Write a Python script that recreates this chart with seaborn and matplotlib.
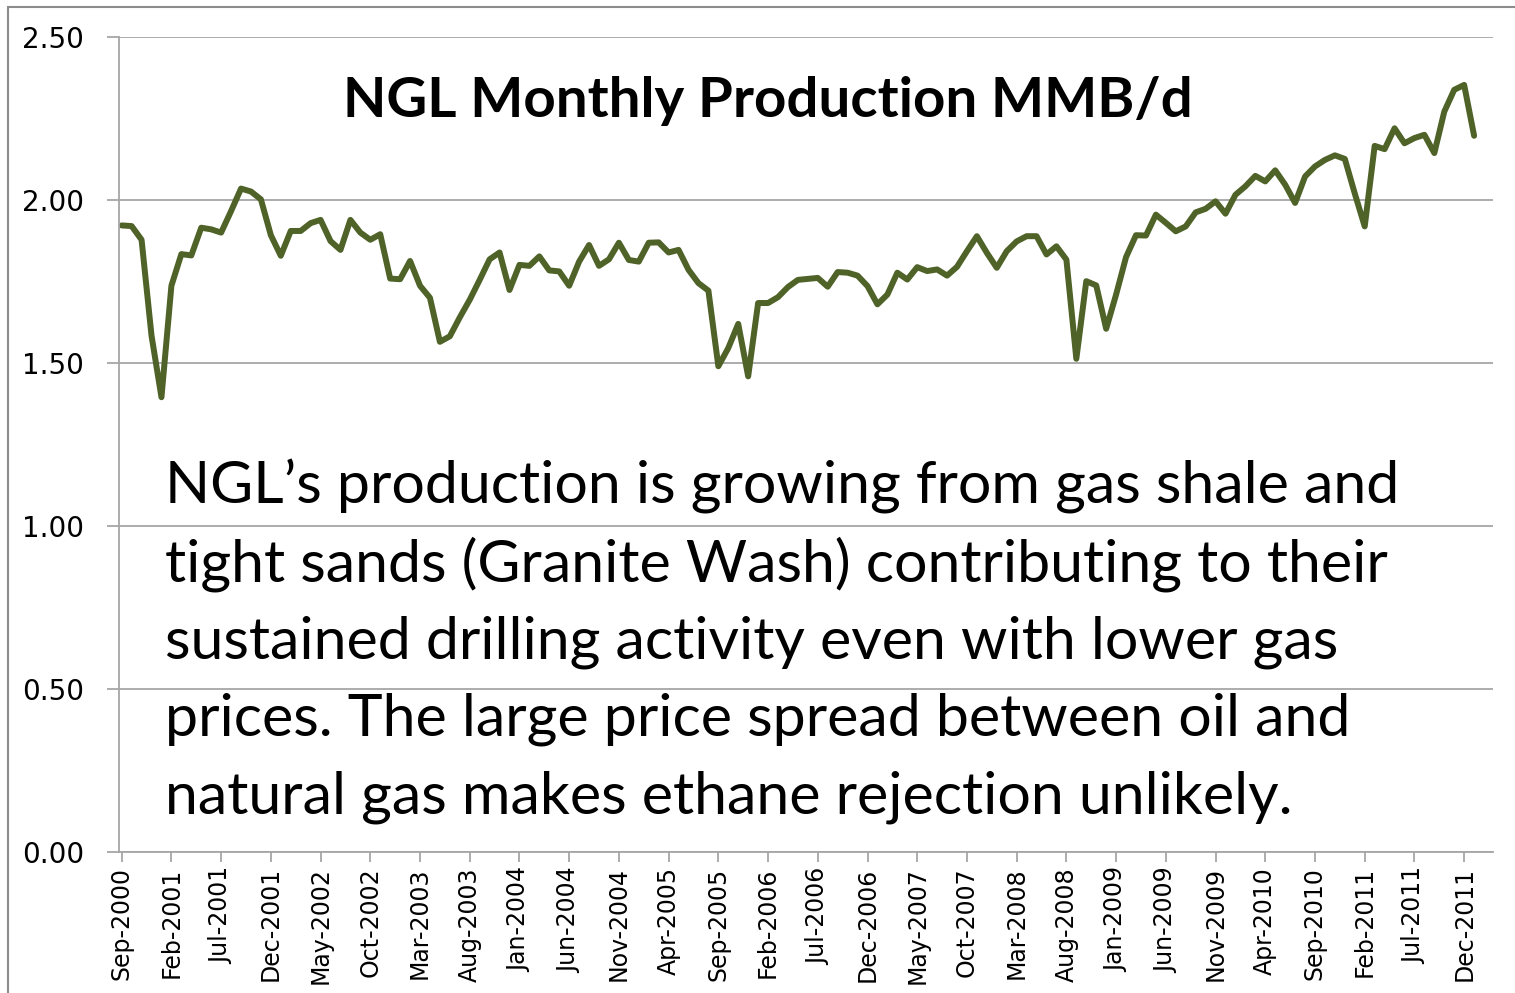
import numpy as np
import pandas as pd
import matplotlib.pyplot as plt
import seaborn as sns
from matplotlib.patches import Rectangle

# NGL monthly production, MMB/d, Sep-2000 .. Jan-2012
months = pd.date_range('2000-09-01', periods=137, freq='MS').strftime('%b-%Y')
ngl_production = [
    1.922, 1.920, 1.878, 1.584, 1.395, 1.737, 1.834, 1.830, 1.915, 1.910,
    1.900, 1.966, 2.035, 2.026, 2.002, 1.892, 1.829, 1.905, 1.905, 1.929,
    1.939, 1.874, 1.847, 1.939, 1.900, 1.878, 1.895, 1.759, 1.757, 1.813,
    1.737, 1.700, 1.565, 1.582, 1.640, 1.694, 1.755, 1.818, 1.839, 1.724,
    1.801, 1.798, 1.827, 1.784, 1.781, 1.737, 1.811, 1.862, 1.798, 1.818,
    1.869, 1.816, 1.811, 1.869, 1.870, 1.839, 1.847, 1.786, 1.745, 1.722,
    1.490, 1.546, 1.620, 1.459, 1.684, 1.684, 1.702, 1.733, 1.755, 1.758,
    1.761, 1.734, 1.779, 1.777, 1.768, 1.736, 1.680, 1.710, 1.777, 1.756,
    1.794, 1.782, 1.787, 1.768, 1.795, 1.843, 1.889, 1.838, 1.792, 1.843,
    1.873, 1.889, 1.889, 1.833, 1.858, 1.817, 1.513, 1.751, 1.738, 1.605,
    1.710, 1.825, 1.892, 1.891, 1.955, 1.930, 1.904, 1.919, 1.962, 1.973,
    1.996, 1.958, 2.016, 2.042, 2.074, 2.057, 2.091, 2.047, 1.991, 2.072,
    2.103, 2.123, 2.137, 2.126, 2.020, 1.919, 2.166, 2.156, 2.220, 2.174,
    2.190, 2.200, 2.144, 2.271, 2.338, 2.353, 2.197,
]

tick_labels = [
    'Sep-2000', 'Feb-2001', 'Jul-2001', 'Dec-2001', 'May-2002', 'Oct-2002',
    'Mar-2003', 'Aug-2003', 'Jan-2004', 'Jun-2004', 'Nov-2004', 'Apr-2005',
    'Sep-2005', 'Feb-2006', 'Jul-2006', 'Dec-2006', 'May-2007', 'Oct-2007',
    'Mar-2008', 'Aug-2008', 'Jan-2009', 'Jun-2009', 'Nov-2009', 'Apr-2010',
    'Sep-2010', 'Feb-2011', 'Jul-2011', 'Dec-2011',
]
y_ticks = [0.0, 0.5, 1.0, 1.5, 2.0, 2.5]

title_text = 'NGL Monthly Production MMB/d'
note_lines = [
    'NGL\u2019s production is growing from gas shale and',
    'tight sands (Granite Wash) contributing to their',
    'sustained drilling activity even with lower gas',
    'prices. The large price spread between oil and',
    'natural gas makes ethane rejection unlikely.',
]

df = pd.DataFrame({'month': months, 'production': ngl_production})
df['pos'] = np.arange(len(df))

sns.set_style('white')
plt.rcParams['font.family'] = ['DejaVu Sans']
plt.rcParams['text.color'] = 'black'
plt.rcParams['xtick.labelcolor'] = 'black'
plt.rcParams['ytick.labelcolor'] = 'black'

W, H = 1515, 993
grey = '#a6a6a6'
fig = plt.figure(figsize=(W / 100, H / 100), dpi=100)
ax = fig.add_axes([119 / W, 1 - 852 / H, (1493 - 119) / W, (852 - 37) / H])

sns.lineplot(data=df, x='pos', y='production', ax=ax,
             color='#4f6228', linewidth=4.3)

ax.set_xlim(-0.27, 137.9)
ax.set_ylim(0, 2.5)
ax.set_yticks(y_ticks)
ax.set_yticklabels([f'{v:.2f}' for v in y_ticks])
tick_pos = df.loc[df['month'].isin(tick_labels), 'pos'].tolist()
ax.set_xticks(tick_pos)
ax.set_xticklabels(df.loc[df['month'].isin(tick_labels), 'month'], rotation=90)
ax.set_xlabel('')
ax.set_ylabel('')

ax.yaxis.grid(True, color=grey, lw=1.3)
ax.set_axisbelow(True)
for s in ['top', 'right']:
    ax.spines[s].set_visible(False)
for s in ['left', 'bottom']:
    ax.spines[s].set_color(grey)
    ax.spines[s].set_linewidth(1.3)
ax.tick_params(axis='y', length=9, width=1.3, color=grey, pad=16,
               labelsize=20, left=True)
ax.tick_params(axis='x', length=7, width=1.3, color=grey, pad=4,
               labelsize=17, bottom=True, direction='out')

# title and note text, sized to match the reference widths
fig.canvas.draw()
renderer = fig.canvas.get_renderer()

title = fig.text(768 / W, 1 - 117 / H, title_text, ha='center', va='baseline',
                 fontsize=34, fontweight='bold', color='black',
                 family=['Lato', 'DejaVu Sans'])
tw = title.get_window_extent(renderer).width
title.set_fontsize(34 * 850 / tw)

notes = []
for i, line in enumerate(note_lines):
    t = fig.text(165 / W, 1 - (504 + 77.3 * i) / H, line, ha='left',
                 va='baseline', fontsize=38, color='black',
                 family=['Lato', 'DejaVu Sans'])
    notes.append(t)
nw = notes[1].get_window_extent(renderer).width
for t in notes:
    t.set_fontsize(38 * 1225 / nw)

fig.add_artist(Rectangle((8 / W, -0.1), 1.2, 1.1 - 7 / H, transform=fig.transFigure,
                         fill=False, edgecolor='#8c8c8c', lw=1.5))

fig.savefig('out.png', dpi=100)
